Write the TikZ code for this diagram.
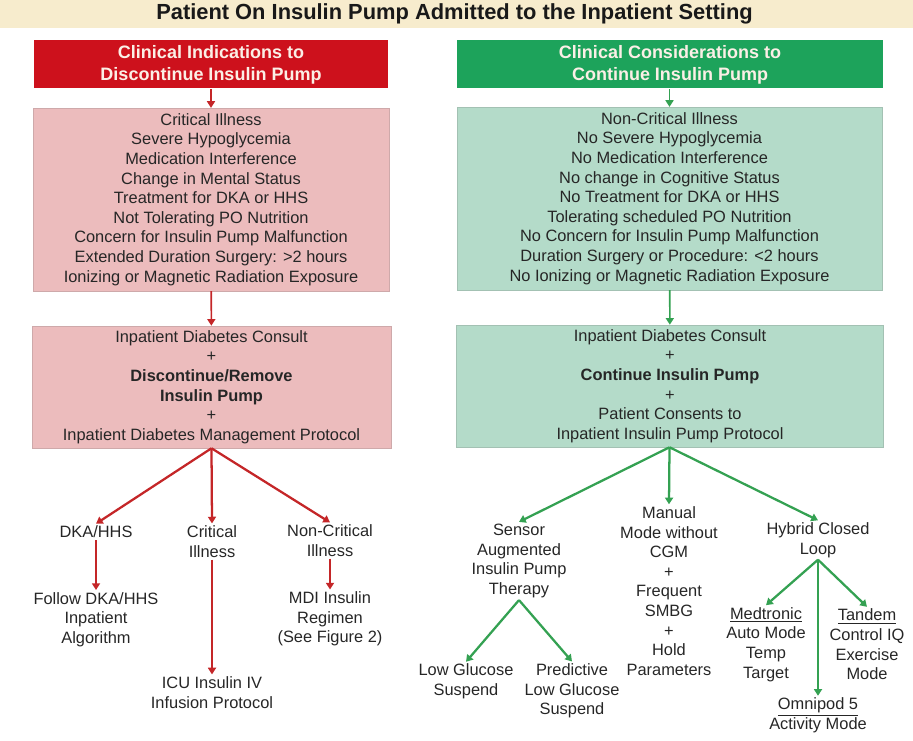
\documentclass[tikz,border=0pt]{standalone}
\usepackage{fontspec}
\setmainfont{Liberation Sans}
\usetikzlibrary{arrows.meta}
\definecolor{bandbg}{HTML}{F7ECCD}
\definecolor{stopred}{HTML}{CD111C}
\definecolor{stoppink}{HTML}{ECBCBD}
\definecolor{stopline}{HTML}{C42628}
\definecolor{gogreen}{HTML}{1DA35B}
\definecolor{gomint}{HTML}{B4DBC9}
\definecolor{goline}{HTML}{34A152}
\definecolor{headtext}{HTML}{FBEFE6}
\tikzset{
  txt/.style={font=\fontsize{12.3}{14.7}\selectfont, align=center, inner sep=1.5pt, text=black!85},
  header/.style={font=\bfseries\fontsize{13.5}{16.5}\selectfont, align=center, text=headtext,
                 minimum height=36pt, inner sep=0pt},
  redhead/.style={header, fill=stopred, minimum width=266pt},
  greenhead/.style={header, fill=gogreen, minimum width=319.5pt},
  pinkbox/.style={txt, fill=stoppink, draw=stoppink!85!black!90, line width=.4pt, inner sep=0pt},
  mintbox/.style={txt, fill=gomint, draw=gomint!85!black!90, line width=.4pt, inner sep=0pt},
  redarrow/.style={draw=stopline, line width=1.7pt, -{Triangle[width=6pt,length=5pt]}},
  greenarrow/.style={draw=goline, line width=1.7pt, -{Triangle[width=6pt,length=5pt]}},
}
\begin{document}
\begin{tikzpicture}[x=.75pt,y=-.75pt]
\useasboundingbox (0,0) rectangle (913,741);
% title band
\fill[bandbg] (0,0) rectangle (913,28);
\node[font=\bfseries\fontsize{16.4}{19}\selectfont, text=black!90] (title) at (454.5,14)
  {Patient On Insulin Pump Admitted to the Inpatient Setting};

% left column: discontinue
\node[redhead] (stophead) at (211,64.5) {Clinical Indications to\\Discontinue Insulin Pump};
\node[pinkbox, minimum width=267pt, minimum height=137pt] (stopwhy) at (211,199.5)
  {Critical Illness\\Severe Hypoglycemia\\Medication Interference\\Change in Mental Status\\
   Treatment for DKA or HHS\\Not Tolerating PO Nutrition\\Concern for Insulin Pump Malfunction\\
   Extended Duration Surgery: >2 hours\\Ionizing or Magnetic Radiation Exposure};
\node[pinkbox, minimum width=269pt, minimum height=91.5pt] (stopdo) at (211.5,387)
  {Inpatient Diabetes Consult\\+\\\textbf{Discontinue/Remove}\\\textbf{Insulin Pump}\\+\\
   Inpatient Diabetes Management Protocol};
\node[txt] (dka) at (96,532) {DKA/HHS};
\node[txt] (crit) at (212,541.5) {Critical\\Illness};
\node[txt] (noncrit) at (330,540.5) {Non-Critical\\Illness};
\node[txt] (dkaalg) at (96,619.5) {Follow DKA/HHS\\Inpatient\\Algorithm};
\node[txt] (icu) at (212,692.5) {ICU Insulin IV\\Infusion Protocol};
\node[txt] (mdi) at (330,619) {MDI Insulin\\Regimen\\(See Figure 2)};

% right column: continue
\node[greenhead] (gohead) at (670,64.5) {Clinical Considerations to\\Continue Insulin Pump};
\node[mintbox, minimum width=319pt, minimum height=137pt] (gowhy) at (669.5,198.5)
  {Non-Critical Illness\\No Severe Hypoglycemia\\No Medication Interference\\No change in Cognitive Status\\
   No Treatment for DKA or HHS\\Tolerating scheduled PO Nutrition\\No Concern for Insulin Pump Malfunction\\
   Duration Surgery or Procedure: <2 hours\\No Ionizing or Magnetic Radiation Exposure};
\node[mintbox, minimum width=320pt, minimum height=91.5pt] (godo) at (670,386)
  {Inpatient Diabetes Consult\\+\\\textbf{Continue Insulin Pump}\\+\\
   Patient Consents to\\Inpatient Insulin Pump Protocol};
\node[txt] (sensor) at (519,561) {Sensor\\Augmented\\Insulin Pump\\Therapy};
\node[txt] (manual) at (669,591) {Manual\\Mode without\\CGM\\+\\Frequent\\SMBG\\+\\Hold\\Parameters};
\node[txt] (hybrid) at (818,540) {Hybrid Closed\\Loop};
\node[txt] (lgs) at (466,681.5) {Low Glucose\\Suspend};
\node[txt] (plgs) at (572,691) {Predictive\\Low Glucose\\Suspend};
\node[txt] (medt) at (766,644.5) {\underline{Medtronic}\\Auto Mode\\Temp\\Target};
\node[txt] (tand) at (867,644.5) {\underline{Tandem}\\Control IQ\\Exercise\\Mode};
\node[txt] (omni) at (818,715.5) {\underline{Omnipod 5}\\Activity Mode};

% connectors
\draw[redarrow, line width=1.2pt] (stophead) -- (stopwhy);
\draw[redarrow, line width=1.2pt] (stopwhy) -- (stopdo);
\draw[redarrow] (stopdo.south) -- (dka.north);
\draw[redarrow] (stopdo.south) -- (crit.north);
\draw[redarrow] (stopdo.south) -- (noncrit.north);
\draw[redarrow] (dka) -- (dkaalg);
\draw[redarrow] (crit) -- (icu);
\draw[redarrow] (noncrit) -- (mdi);

\draw[greenarrow, line width=1.2pt] (gohead.south -| gowhy.north) -- (gowhy);
\draw[greenarrow, line width=1.2pt] (gowhy) -- (godo);
\draw[greenarrow] (godo.south -| gowhy.south) -- (sensor.north);
\draw[greenarrow] (godo.south -| gowhy.south) -- (manual.north);
\draw[greenarrow] (godo.south -| gowhy.south) -- (hybrid.north);
\draw[greenarrow] (sensor.south) -- (lgs.north);
\draw[greenarrow] (sensor.south) -- (plgs.north);
\draw[greenarrow] (hybrid.south) -- (medt.north);
\draw[greenarrow] (hybrid.south) -- (omni.north);
\draw[greenarrow] (hybrid.south) -- (tand.north);
\end{tikzpicture}
\end{document}
